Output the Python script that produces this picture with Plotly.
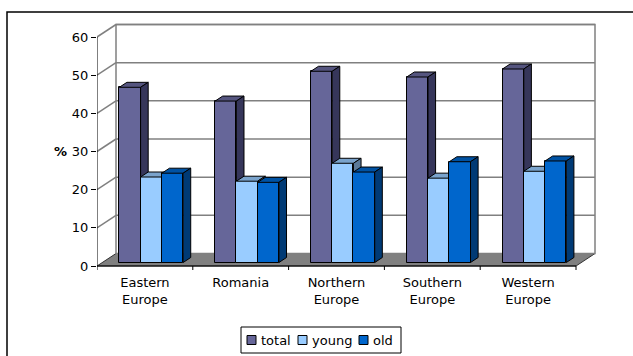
import plotly.graph_objects as go

# ---- data -------------------------------------------------------------
regions = ["Eastern Europe", "Romania", "Northern Europe", "Southern Europe", "Western Europe"]
tick_labels = ["Eastern<br>Europe", "Romania", "Northern<br>Europe", "Southern<br>Europe", "Western<br>Europe"]
total = [45.9, 42.3, 50.1, 48.6, 50.7]
young = [22.4, 21.3, 26.0, 22.1, 23.9]
old = [23.4, 21.0, 23.7, 26.4, 26.6]
y_ticks = [0, 10, 20, 30, 40, 50, 60]

# ---- page / plot-area geometry (pixels) --------------------------------
W, H = 633, 356
ML, MR, MT, MB = 97, 33, 20, 86
PLOT_W, PLOT_H = W - ML - MR, H - MT - MB
PX_CAT = 95.8           # pixels per category on the front axis
PX_UNIT = 229 / 60      # pixels per percentage point


def px_x(px):
    """page pixel column -> paper x"""
    return (px - ML) / PLOT_W


def px_y(py):
    """page pixel row -> paper y"""
    return (H - MB - py) / PLOT_H


# oblique 3-D offsets, in axis units
WALL_DX, WALL_DY = 19 / PX_CAT, 12.5 / PX_UNIT      # back wall
FRONT_DX, FRONT_DY = 0.066, 3.5 / PX_UNIT           # bar front plane
DEPTH_DX, DEPTH_DY = 7.6 / PX_CAT, 5.0 / PX_UNIT    # bar depth
BAR_W = 0.222
N = len(regions)
YMAX = y_ticks[-1]

series = [
    ("total", total, "#666699", "#55557f", "#36365a"),
    ("young", young, "#99ccff", "#7aa3cc", "#5c7a99"),
    ("old", old, "#0066cc", "#0052a3", "#003a75"),
]

fig = go.Figure()

for k, (name, vals, c_front, c_top, c_side) in enumerate(series):
    xs = [i + 0.5 + FRONT_DX + (k - 1) * BAR_W for i in range(N)]
    # front faces
    fig.add_trace(go.Bar(
        x=xs, y=vals, base=FRONT_DY, width=BAR_W, name=name, showlegend=False,
        marker=dict(color=c_front, line=dict(color="black", width=1)),
        zorder=2 * k, hoverinfo="skip",
    ))
    # top and side faces, projected from each bar's value
    top_x, top_y, side_x, side_y = [], [], [], []
    for x, v in zip(xs, vals):
        xl, xr = x - BAR_W / 2, x + BAR_W / 2
        t = FRONT_DY + v
        top_x += [xl, xr, xr + DEPTH_DX, xl + DEPTH_DX, xl, None]
        top_y += [t, t, t + DEPTH_DY, t + DEPTH_DY, t, None]
        side_x += [xr, xr + DEPTH_DX, xr + DEPTH_DX, xr, xr, None]
        side_y += [FRONT_DY, FRONT_DY + DEPTH_DY, t + DEPTH_DY, t, FRONT_DY, None]
    for fx, fy, col in ((top_x, top_y, c_top), (side_x, side_y, c_side)):
        fig.add_trace(go.Scatter(
            x=fx, y=fy, mode="lines", fill="toself", fillcolor=col,
            line=dict(color="black", width=1), showlegend=False,
            hoverinfo="skip", zorder=2 * k + 1,
        ))

shapes = []
annotations = []
GRID = dict(color="#808080", width=1.5)
# floor
shapes.append(dict(
    type="path", xref="x", yref="y", layer="below",
    path=f"M0,0 L{N},0 L{N + WALL_DX},{WALL_DY} L{WALL_DX},{WALL_DY} Z",
    fillcolor="#808080", line=dict(color="#333333", width=1),
))
# back wall outline
shapes.append(dict(
    type="rect", xref="x", yref="y", layer="below",
    x0=WALL_DX, x1=N + WALL_DX, y0=WALL_DY, y1=YMAX + WALL_DY,
    line=GRID, fillcolor="rgba(0,0,0,0)",
))
# gridlines on the side wall and back wall
for v in y_ticks[1:]:
    shapes.append(dict(type="line", xref="x", yref="y", layer="below",
                       x0=0, y0=v, x1=WALL_DX, y1=v + WALL_DY, line=GRID))
    shapes.append(dict(type="line", xref="x", yref="y", layer="below",
                       x0=WALL_DX, y0=v + WALL_DY, x1=N + WALL_DX, y1=v + WALL_DY, line=GRID))
# front axes
AX = dict(color="black", width=1)
shapes.append(dict(type="line", xref="x", yref="y", x0=0, y0=0, x1=0, y1=YMAX, line=AX))
shapes.append(dict(type="line", xref="x", yref="y", x0=0, y0=0, x1=N, y1=0, line=AX))
for i in range(N + 1):
    shapes.append(dict(type="line", xref="x", yref="y", x0=i, y0=0, x1=i,
                       y1=-5 / PX_UNIT, line=AX))
# outer chart frame
shapes.append(dict(
    type="rect", xref="paper", yref="paper",
    x0=px_x(7), x1=px_x(W + 10), y0=px_y(H + 10), y1=px_y(12),
    line=dict(color="black", width=1.5), fillcolor="rgba(0,0,0,0)",
))

# compact legend: framed box with a swatch and label per series
LEG_BOX = (241, 327, 401, 353)
LEG_MID = 340
LEG_SWATCH_X = [247, 298, 359]
shapes.append(dict(
    type="rect", xref="paper", yref="paper",
    x0=px_x(LEG_BOX[0]), x1=px_x(LEG_BOX[2]),
    y0=px_y(LEG_BOX[3]), y1=px_y(LEG_BOX[1]),
    line=dict(color="black", width=1), fillcolor="white",
))
for (name, _, c_front, _, _), sx in zip(series, LEG_SWATCH_X):
    shapes.append(dict(
        type="rect", xref="paper", yref="paper",
        x0=px_x(sx), x1=px_x(sx + 9), y0=px_y(LEG_MID + 4.5), y1=px_y(LEG_MID - 4.5),
        line=dict(color="black", width=1), fillcolor=c_front,
    ))
    annotations.append(dict(
        text=name, xref="paper", yref="paper", x=px_x(sx + 12), y=px_y(LEG_MID),
        xanchor="left", yanchor="middle", showarrow=False, font=dict(size=13),
    ))

annotations.append(dict(
    text="<b>%</b>", xref="paper", yref="y", x=px_x(60), y=30,
    xanchor="center", yanchor="middle", showarrow=False, font=dict(size=13),
))

FONT = "DejaVu Sans, Arial, sans-serif"
fig.update_layout(
    width=W, height=H,
    margin=dict(l=ML, r=MR, t=MT, b=MB, autoexpand=False),
    paper_bgcolor="white", plot_bgcolor="white",
    barmode="overlay", bargap=0, showlegend=False,
    font=dict(family=FONT, size=13, color="black"),
    shapes=shapes,
    annotations=annotations,
    xaxis=dict(
        range=[0, PLOT_W / PX_CAT], tickvals=[i + 0.5 for i in range(N)],
        ticktext=tick_labels, ticks="", showgrid=False, zeroline=False,
        showline=False, fixedrange=True, tickfont=dict(size=13),
        ticklabelstandoff=3,
    ),
    yaxis=dict(
        range=[-4 / PX_UNIT, (PLOT_H - 4) / PX_UNIT], tickvals=y_ticks,
        ticks="outside", ticklen=5, tickcolor="black", showgrid=False,
        zeroline=False, showline=False, fixedrange=True, tickfont=dict(size=13),
    ),
)

fig.write_html("out.html")
